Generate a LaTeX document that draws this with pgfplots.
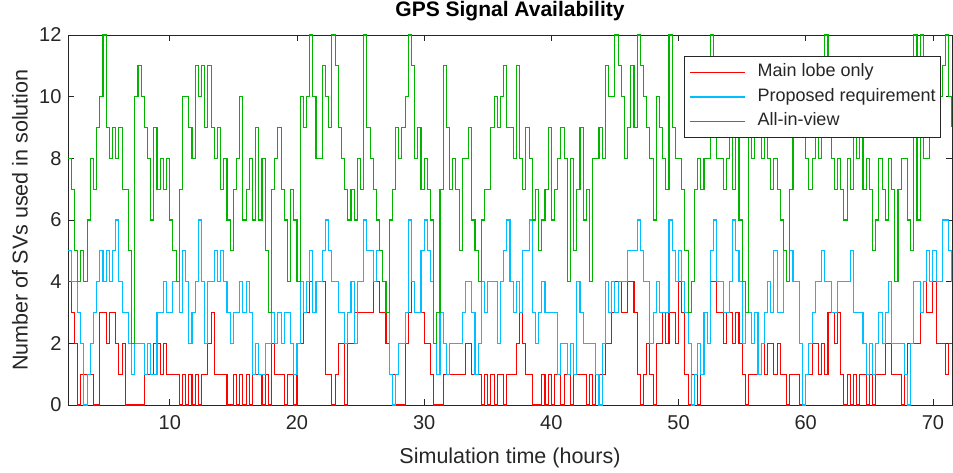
\documentclass[border=0pt]{standalone}
\usepackage{fontspec}
\setmainfont{Liberation Sans}
\usepackage{pgfplots}
\usepackage{pgfplotstable}
\pgfplotsset{compat=1.18}
\definecolor{mred}{RGB}{255,0,0}
\definecolor{mcyan}{RGB}{0,191,255}
\definecolor{mgreen}{RGB}{0,180,0}
\definecolor{axgray}{RGB}{38,38,38}
\pgfplotstableread{
t r c g
2.0 4 5 8
2.25 3 4 7
2.5 2 4 5
2.75 0 3 4
3.0 1 2 5
3.25 1 0 4
3.5 1 1 6
3.75 1 2 8
4.0 0 3 7
4.25 0 4 9
4.5 3 5 10
4.75 3 4 12
5.0 2 5 9
5.25 3 4 8
5.5 3 5 9
5.75 2 6 8
6.0 1 4 9
6.25 2 3 7
6.5 0 3 7
6.75 0 2 5
7.0 0 1 2
7.25 0 2 10
7.5 0 2 11
7.75 0 2 10
8.0 1 1 9
8.25 1 2 8
8.5 1 1 6
8.75 2 1 9
9.0 2 3 7
9.25 1 3 8
9.5 2 4 7
9.75 1 3 8
10.0 1 3 6
10.25 1 4 5
10.5 1 4 4
10.75 0 3 7
11.0 1 5 10
11.25 0 4 10
11.5 1 2 9
11.75 0 3 8
12.0 1 4 11
12.25 0 6 10
12.5 1 4 11
12.75 1 2 9
13.0 2 4 11
13.25 3 4 9
13.5 1 5 8
13.75 1 4 9
14.0 1 5 7
14.25 1 4 8
14.5 0 3 6
14.75 0 2 5
15.0 1 3 7
15.25 0 3 8
15.5 1 4 10
15.75 0 3 6
16.0 1 4 7
16.25 0 3 8
16.5 1 1 6
16.75 1 2 9
17.0 1 1 6
17.25 0 1 8
17.5 1 2 5
17.75 0 2 3
18.0 2 3 7
18.25 1 2 8
18.5 1 3 9
18.75 1 2 7
19.0 0 3 6
19.25 1 3 4
19.5 1 2 7
19.75 0 1 6
20.0 2 2 4
20.25 2 4 10
20.5 3 3 9
20.75 3 4 10
21.0 4 5 12
21.25 3 3 10
21.5 4 4 8
21.75 4 4 8
22.0 4 5 11
22.25 1 6 10
22.5 1 5 9
22.75 0 4 12
23.0 1 4 11
23.25 2 3 9
23.5 2 3 8
23.75 0 2 7
24.0 2 3 6
24.25 2 4 7
24.5 3 2 6
24.75 3 4 8
25.0 3 4 7
25.25 3 6 12
25.5 3 5 9
25.75 3 5 8
26.0 4 4 7
26.25 4 5 6
26.5 3 5 5
26.75 3 4 4
27.0 2 3 3
27.25 1 1 6
27.5 1 0 7
27.75 0 1 9
28.0 0 2 8
28.25 0 2 9
28.5 2 3 10
28.75 3 6 12
29.0 4 4 11
29.25 3 3 8
29.5 3 3 9
29.75 3 5 7
30.0 2 6 8
30.25 2 5 7
30.5 1 4 6
30.75 0 2 2
31.0 0 1 3
31.25 0 3 7
31.5 1 2 11
31.75 1 1 9
32.0 1 2 7
32.25 1 2 8
32.5 1 2 7
32.75 1 2 5
33.0 1 3 8
33.25 2 4 8
33.5 2 4 9
33.75 1 3 6
34.0 1 1 5
34.25 1 2 4
34.5 0 4 6
34.75 1 3 7
35.0 0 4 7
35.25 1 4 9
35.5 0 4 10
35.75 1 2 9
36.0 1 4 10
36.25 0 5 11
36.5 1 6 9
36.75 1 4 9
37.0 1 3 8
37.25 2 4 11
37.5 3 3 8
37.75 2 5 7
38.0 1 5 9
38.25 1 6 8
38.5 0 3 6
38.75 0 2 7
39.0 0 3 5
39.25 1 4 6
39.5 0 3 7
39.75 1 3 9
40.0 0 3 6
40.25 1 3 7
40.5 1 1 8
40.75 0 2 9
41.0 1 2 8
41.25 1 1 4
41.5 0 2 8
41.75 1 1 5
42.0 1 4 7
42.25 1 3 9
42.5 1 2 6
42.75 0 2 7
43.0 1 2 4
43.25 0 2 8
43.5 1 1 8
43.75 1 0 9
44.0 1 2 8
44.25 2 4 11
44.5 2 3 10
44.75 3 4 10
45.0 4 3 12
45.25 4 4 11
45.5 3 4 10
45.75 3 4 8
46.0 4 5 9
46.25 4 5 11
46.5 3 5 9
46.75 1 6 12
47.0 0 5 11
47.25 1 4 10
47.5 2 4 9
47.75 1 2 8
48.0 0 3 6
48.25 2 4 10
48.5 2 3 9
48.75 3 3 8
49.0 2 3 7
49.25 3 6 12
49.5 3 5 9
49.75 2 4 8
50.0 4 5 8
50.25 3 4 7
50.5 1 3 5
50.75 0 2 3
51.0 1 0 4
51.25 1 1 7
51.5 0 2 8
51.75 1 1 7
52.0 3 3 8
52.25 2 2 8
52.5 4 5 12
52.75 4 6 9
53.0 3 4 8
53.25 3 4 8
53.5 2 3 7
53.75 3 3 8
54.0 3 4 9
54.25 2 6 7
54.5 3 5 10
54.75 2 4 6
55.0 1 2 4
55.25 0 3 3
55.5 1 3 10
55.75 1 2 8
56.0 1 3 10
56.25 1 1 11
56.5 2 2 8
56.75 1 3 9
57.0 2 4 8
57.25 2 3 7
57.5 1 5 8
57.75 2 3 7
58.0 1 3 6
58.25 1 5 5
58.5 0 4 4
58.75 1 5 7
59.0 1 4 10
59.25 1 4 9
59.5 0 2 10
59.75 0 0 9
60.0 1 1 8
60.25 1 2 7
60.5 2 3 8
60.75 2 4 10
61.0 1 4 8
61.25 2 5 9
61.5 1 4 12
61.75 3 4 9
62.0 3 3 8
62.25 2 3 7
62.5 3 4 8
62.75 1 4 7
63.0 0 4 6
63.25 1 4 8
63.5 0 5 7
63.75 1 3 9
64.0 0 3 8
64.25 1 3 9
64.5 1 2 7
64.75 0 1 8
65.0 1 2 7
65.25 0 1 5
65.5 1 2 6
65.75 1 3 8
66.0 1 2 7
66.25 2 3 6
66.5 2 4 8
66.75 1 2 7
67.0 1 2 4
67.25 1 2 7
67.5 0 2 8
67.75 1 1 8
68.0 2 0 6
68.25 2 2 5
68.5 2 4 12
68.75 2 4 6
69.0 3 3 12
69.25 4 4 8
69.5 3 5 8
69.75 3 4 9
70.0 4 5 9
70.25 2 4 10
70.5 2 4 10
70.75 2 6 11
71.0 1 6 12
71.25 2 5 10
71.5 2 4 9
}\data
\begin{document}
\begin{tikzpicture}
\begin{axis}[
  scale only axis, width=884pt, height=370pt,
  at={(0,0)}, anchor=south west,
  xmin=2, xmax=71.5, ymin=0, ymax=12,
  xtick={10,20,...,70}, ytick={0,2,...,12},
  tick align=inside, major tick length=6pt,
  axis line style={axgray, line width=0.8pt},
  every tick/.style={axgray, line width=0.8pt},
  ticklabel style={font=\fontsize{20}{20}\selectfont, text=axgray},
  xticklabel style={yshift=-7pt},
  yticklabel style={xshift=-3pt},
  /pgf/number format/assume math mode=true,
  xlabel={Simulation time (hours)},
  ylabel={Number of SVs used in solution},
  xlabel style={font=\fontsize{21.5}{21.5}\selectfont, text=axgray, at={(axis description cs:0.5,-0.1432)}, anchor=center},
  ylabel style={font=\fontsize{21.5}{21.5}\selectfont, text=axgray, at={(axis description cs:-0.0543,0.5)}, anchor=center},
  title={\textbf{GPS Signal Availability}},
  title style={font=\fontsize{21}{21}\selectfont, text=black, at={(axis description cs:0.5,1.0486)}, anchor=center},
  legend style={at={(axis description cs:0.98756,0.94324)}, anchor=north east,
    draw=axgray, line width=0.8pt, font=\fontsize{18}{18}\selectfont, text=axgray,
    nodes={inner sep=0pt, text height=13pt, text depth=4pt},
    row sep=7.5pt, column sep=13pt, inner xsep=5pt, inner ysep=7.5pt},
  legend cell align=left,
  legend image code/.code={\fill[#1] (0pt,-0.6pt) rectangle (55pt,0.6pt);},
]
\addlegendimage{fill=mred, draw=none}
\addlegendentry{Main lobe only}
\addlegendimage{fill=mcyan, draw=none}
\addlegendentry{Proposed requirement}
\addlegendimage{fill=mgreen, draw=none}
\addlegendentry{All-in-view}
\addplot[forget plot, const plot, draw=mred, line width=1.1pt] table[x=t, y=r] {\data};
\addplot[forget plot, const plot, draw=mcyan, line width=1.1pt] table[x=t, y=c] {\data};
\addplot[forget plot, const plot, draw=mgreen, line width=1.1pt] table[x=t, y=g] {\data};
\end{axis}
\pgfresetboundingbox
\path (-68pt,-67pt) rectangle (885pt,405pt);
\end{tikzpicture}
\end{document}
